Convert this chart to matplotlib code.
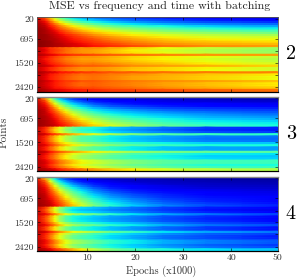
import matplotlib
matplotlib.use("Agg")
import matplotlib.pyplot as plt
import numpy as np

plt.rcParams["font.family"] = ["cmr10", "DejaVu Serif"]
plt.rcParams["axes.formatter.use_mathtext"] = True

# epochs (x1000) of the sampled columns, rows are the point counts 20, 95, ... 2495
epochs = [-0.3, 1.5, 2.5, 3.5, 4.5, 5.75, 7.25, 9, 11.5, 15, 19.5, 26, 35, 50]
points = [20 + 75 * i for i in range(35)]
point_ticks = [88, 773, 1184, 1594, 2005, 2416]
point_labels = ["20", "695", "", "1520", "", "2420"]
epoch_ticks = [10.3, 20.3, 30.3, 40.3, 50]
epoch_labels = ["10", "20", "30", "40", "50"]

# MSE in percent of the colour range
mse_2 = [
    [92, 82, 70, 58, 48, 40, 33, 28, 24, 20, 17, 14, 11, 8],
    [94, 86, 76, 66, 57, 49, 42, 36, 31, 26, 22, 19, 15, 12],
    [96, 90, 82, 73, 65, 57, 50, 44, 38, 33, 28, 24, 20, 17],
    [97, 92, 86, 79, 72, 65, 58, 52, 46, 40, 35, 30, 26, 23],
    [97, 94, 89, 84, 78, 72, 66, 60, 54, 48, 43, 38, 33, 29],
    [98, 95, 91, 87, 82, 77, 72, 67, 61, 55, 50, 45, 40, 36],
    [98, 96, 93, 90, 86, 82, 77, 72, 67, 61, 56, 51, 47, 43],
    [98, 96, 94, 92, 89, 85, 81, 77, 72, 67, 62, 57, 53, 49],
    [98, 97, 95, 93, 91, 88, 85, 81, 76, 71, 66, 62, 58, 55],
    [98, 97, 96, 94, 92, 90, 87, 84, 80, 75, 71, 66, 62, 60],
    [98, 97, 96, 95, 93, 91, 89, 86, 83, 78, 74, 70, 66, 64],
    [99, 98, 97, 95, 94, 92, 90, 88, 85, 81, 77, 73, 70, 67],
    [99, 98, 97, 96, 95, 93, 92, 90, 87, 84, 80, 76, 73, 71],
    [99, 98, 97, 96, 95, 94, 92, 91, 89, 86, 83, 79, 76, 74],
    [94, 90, 86, 84, 82, 80, 78, 76, 76, 73, 69, 64, 59, 54],
    [95, 91, 87, 85, 83, 80, 77, 75, 74, 71, 66, 61, 57, 52],
    [94, 90, 87, 84, 82, 79, 77, 75, 74, 71, 67, 63, 58, 53],
    [96, 93, 91, 90, 88, 87, 85, 84, 83, 81, 79, 77, 75, 74],
    [94, 90, 87, 84, 82, 79, 77, 75, 75, 73, 69, 66, 63, 58],
    [94, 89, 86, 83, 81, 78, 76, 74, 74, 72, 68, 65, 61, 56],
    [94, 90, 87, 84, 82, 79, 77, 75, 75, 73, 70, 67, 63, 58],
    [95, 91, 88, 86, 84, 81, 79, 77, 78, 76, 73, 70, 66, 61],
    [96, 93, 91, 89, 87, 85, 83, 81, 81, 79, 76, 74, 72, 68],
    [94, 90, 87, 85, 82, 80, 78, 76, 76, 74, 71, 68, 65, 60],
    [94, 90, 87, 84, 82, 79, 77, 75, 76, 74, 70, 68, 64, 60],
    [97, 94, 92, 91, 89, 88, 87, 85, 84, 82, 81, 79, 78, 77],
    [95, 92, 89, 87, 85, 83, 81, 79, 80, 78, 76, 73, 70, 66],
    [95, 91, 88, 86, 84, 82, 80, 78, 79, 77, 74, 72, 69, 64],
    [95, 91, 88, 86, 84, 82, 80, 78, 79, 77, 74, 72, 69, 64],
    [96, 93, 91, 89, 87, 85, 84, 82, 82, 80, 78, 76, 74, 70],
    [96, 92, 90, 88, 86, 84, 82, 80, 81, 79, 77, 74, 71, 66],
    [96, 92, 90, 88, 86, 84, 82, 80, 81, 79, 77, 74, 71, 66],
    [96, 93, 91, 89, 88, 86, 84, 83, 83, 81, 79, 76, 73, 69],
    [97, 95, 93, 92, 91, 90, 89, 88, 87, 85, 84, 83, 81, 79],
]
mse_3 = [
    [88, 68, 48, 34, 24, 17, 13, 11, 9, 8, 7, 6, 5, 4],
    [92, 78, 60, 45, 34, 26, 19, 15, 12, 10, 9, 8, 7, 5],
    [94, 84, 69, 55, 44, 34, 26, 21, 16, 13, 11, 9, 8, 7],
    [95, 88, 76, 63, 52, 42, 33, 27, 21, 17, 14, 12, 11, 10],
    [96, 90, 81, 70, 60, 49, 40, 33, 26, 21, 18, 15, 13, 12],
    [96, 92, 85, 76, 66, 56, 46, 39, 31, 26, 22, 19, 17, 15],
    [97, 93, 87, 80, 71, 62, 52, 45, 36, 31, 27, 23, 20, 18],
    [97, 94, 89, 83, 76, 67, 58, 50, 42, 35, 31, 27, 24, 21],
    [97, 94, 91, 86, 80, 72, 63, 55, 47, 40, 35, 31, 27, 24],
    [97, 95, 92, 88, 83, 76, 68, 60, 52, 45, 39, 34, 30, 27],
    [97, 95, 93, 90, 85, 79, 72, 65, 57, 49, 43, 38, 33, 30],
    [98, 96, 94, 91, 87, 82, 76, 69, 61, 53, 47, 41, 36, 33],
    [98, 96, 94, 92, 89, 85, 79, 73, 65, 57, 51, 44, 39, 36],
    [98, 96, 95, 93, 90, 87, 82, 76, 69, 61, 54, 47, 42, 38],
    [94, 87, 79, 71, 63, 55, 48, 42, 38, 33, 29, 24, 18, 16],
    [93, 86, 77, 69, 61, 53, 46, 40, 37, 31, 27, 22, 17, 15],
    [94, 87, 79, 71, 63, 56, 49, 43, 40, 34, 30, 25, 20, 18],
    [96, 92, 88, 84, 80, 76, 72, 68, 62, 56, 50, 45, 42, 40],
    [93, 87, 79, 72, 65, 58, 52, 46, 43, 37, 33, 29, 25, 24],
    [93, 86, 78, 71, 64, 57, 51, 45, 42, 36, 32, 28, 24, 23],
    [93, 87, 79, 72, 65, 58, 52, 46, 43, 37, 33, 29, 25, 24],
    [94, 89, 83, 77, 71, 65, 60, 54, 50, 45, 41, 37, 33, 32],
    [95, 91, 86, 81, 76, 71, 66, 61, 56, 51, 46, 42, 39, 38],
    [94, 88, 81, 75, 68, 62, 56, 50, 46, 41, 36, 32, 29, 28],
    [94, 88, 81, 75, 68, 62, 56, 50, 46, 41, 36, 32, 29, 28],
    [96, 93, 89, 85, 81, 78, 74, 70, 65, 59, 54, 50, 47, 45],
    [95, 90, 85, 80, 74, 69, 63, 58, 54, 49, 44, 40, 36, 35],
    [94, 89, 83, 78, 72, 66, 60, 55, 51, 46, 41, 37, 33, 32],
    [94, 89, 83, 78, 72, 66, 60, 55, 51, 46, 42, 38, 34, 33],
    [95, 91, 87, 83, 78, 74, 69, 64, 60, 55, 50, 46, 43, 42],
    [95, 92, 88, 84, 79, 75, 70, 65, 61, 56, 51, 46, 43, 42],
    [95, 91, 86, 82, 77, 72, 67, 62, 58, 53, 48, 44, 39, 38],
    [96, 92, 88, 84, 80, 76, 71, 66, 62, 57, 52, 47, 43, 42],
    [97, 95, 93, 91, 88, 85, 82, 79, 75, 70, 66, 61, 58, 56],
]
mse_4 = [
    [86, 62, 42, 28, 19, 14, 11, 9, 7, 5, 4, 3, 3, 3],
    [90, 74, 54, 38, 27, 20, 15, 12, 9, 7, 6, 5, 4, 3],
    [93, 81, 63, 48, 36, 27, 20, 15, 11, 9, 7, 6, 5, 4],
    [94, 85, 71, 56, 44, 34, 26, 20, 15, 11, 9, 7, 6, 5],
    [95, 88, 76, 63, 51, 41, 32, 25, 18, 14, 11, 9, 7, 6],
    [96, 90, 80, 69, 57, 47, 37, 30, 22, 16, 13, 10, 8, 7],
    [96, 91, 83, 73, 62, 52, 42, 34, 26, 19, 15, 12, 10, 8],
    [96, 92, 85, 77, 67, 57, 47, 38, 29, 22, 17, 14, 11, 9],
    [97, 93, 87, 80, 71, 61, 51, 42, 33, 25, 20, 16, 12, 10],
    [97, 94, 89, 83, 75, 65, 55, 46, 36, 28, 22, 17, 14, 11],
    [97, 94, 90, 85, 78, 69, 59, 50, 40, 31, 25, 19, 15, 12],
    [97, 95, 92, 87, 81, 73, 63, 54, 43, 34, 27, 21, 16, 13],
    [98, 95, 93, 89, 83, 76, 67, 58, 47, 37, 30, 23, 18, 14],
    [98, 96, 94, 90, 85, 78, 70, 61, 50, 40, 33, 26, 20, 16],
    [93, 85, 75, 64, 54, 45, 37, 34, 32, 28, 24, 19, 15, 11],
    [92, 83, 73, 62, 52, 43, 35, 32, 30, 26, 23, 18, 14, 10],
    [93, 85, 75, 65, 55, 46, 38, 35, 33, 29, 25, 20, 16, 12],
    [95, 90, 84, 77, 70, 63, 56, 53, 48, 41, 35, 29, 24, 19],
    [92, 84, 75, 65, 55, 46, 39, 36, 33, 29, 26, 21, 17, 13],
    [92, 83, 74, 64, 54, 45, 38, 35, 32, 28, 25, 20, 16, 12],
    [92, 84, 75, 65, 55, 46, 39, 36, 33, 29, 26, 21, 17, 13],
    [94, 87, 80, 72, 63, 55, 48, 44, 40, 35, 31, 25, 20, 16],
    [95, 90, 84, 77, 70, 62, 55, 51, 47, 41, 36, 30, 24, 20],
    [93, 85, 76, 67, 58, 50, 43, 40, 36, 32, 28, 23, 18, 14],
    [93, 85, 76, 67, 58, 50, 43, 40, 36, 32, 28, 23, 18, 14],
    [96, 92, 87, 82, 76, 70, 64, 60, 55, 48, 42, 35, 29, 24],
    [94, 88, 81, 74, 66, 59, 52, 48, 43, 37, 33, 27, 22, 18],
    [94, 87, 79, 71, 63, 55, 48, 44, 40, 34, 30, 24, 20, 15],
    [94, 87, 79, 71, 63, 55, 48, 44, 40, 34, 30, 24, 20, 16],
    [95, 90, 84, 77, 70, 63, 56, 52, 47, 41, 36, 30, 25, 21],
    [95, 90, 84, 78, 71, 64, 57, 53, 48, 41, 36, 30, 25, 21],
    [95, 89, 82, 75, 67, 60, 52, 48, 43, 37, 33, 27, 22, 18],
    [95, 90, 84, 77, 70, 62, 55, 50, 45, 39, 34, 29, 24, 20],
    [97, 94, 91, 87, 83, 78, 72, 66, 58, 50, 44, 39, 35, 32],
]

panels = [("2", mse_2), ("3", mse_3), ("4", mse_4)]
panel_tops = [17, 96.5, 176.5]
panel_height = 74.5
W, H = 299, 278


def draw_panel(ax, values, name, is_first, is_last):
    # each row gets a top and bottom node so only the epoch direction is shaded
    y_nodes = np.repeat(points, 2)[1:-1]
    ax.pcolormesh(epochs, y_nodes, np.repeat(np.array(values) / 100, 2, axis=0),
                  cmap="jet", vmin=0, vmax=1, shading="gouraud", rasterized=True)
    ax.set_xlim(-0.3, 50)
    ax.set_ylim(points[-1], points[0])
    ax.set_yticks(point_ticks, point_labels)
    ax.set_xticks(epoch_ticks, epoch_labels if is_last else [])
    ax.tick_params(direction="in", top=True, right=True, length=2.5, width=0.4,
                   labelsize=7, pad=2, labelcolor="#333333")
    for spine in ax.spines.values():
        spine.set_linewidth(0.6)
        spine.set_color("#555555")
    ax.spines["bottom"].set_color("black")
    ax.spines["bottom"].set_linewidth(0.9)
    if not is_first:
        ax.spines["top"].set_color("#888888")
        ax.spines["top"].set_linewidth(1.0)
    ax.text(1.035, 0.5, name, transform=ax.transAxes, fontsize=14.5, ha="left", va="center")


def main():
    fig = plt.figure(figsize=(W / 100, H / 100), dpi=100)
    for i, (name, values) in enumerate(panels):
        ax = fig.add_axes([36.7 / W, 1 - (panel_tops[i] + panel_height) / H,
                           240.8 / W, panel_height / H])
        draw_panel(ax, values, name, i == 0, i == 2)
    fig.text(159.5 / W, 1 - 6 / H, "MSE vs frequency and time with batching",
             fontsize=8.6, ha="center", va="center", color="#222222")
    fig.text(161.5 / W, 1 - 271 / H, "Epochs (x1000)", fontsize=7.5,
             ha="center", va="center", color="#333333")
    fig.text(4 / W, 1 - 132 / H, "Points", fontsize=8, rotation=90,
             ha="center", va="center", color="#333333")
    fig.savefig("out.png", dpi=100)


if __name__ == "__main__":
    main()
